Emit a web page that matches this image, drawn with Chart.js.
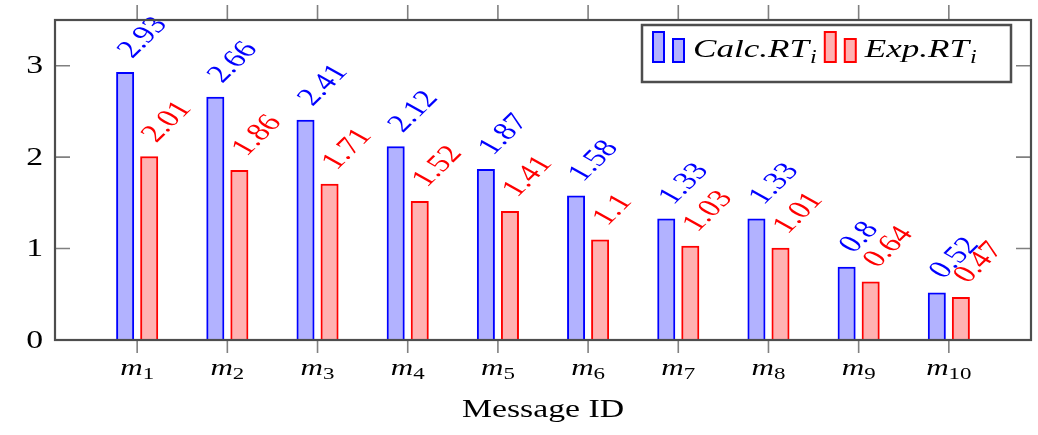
<!DOCTYPE html>
<html>
<head>
<meta charset="utf-8">
<script src="https://cdn.jsdelivr.net/npm/chart.js@4.4.1/dist/chart.umd.min.js"></script>
<style>
  body { margin: 0; background: #fff; }
  #wrap { width: 1038px; height: 435px; }
</style>
</head>
<body>
<div id="wrap"><canvas id="chart" width="1038" height="435"></canvas></div>
<script>
// --- Data ---
const messageIds = ['1', '2', '3', '4', '5', '6', '7', '8', '9', '10'];
const calcRT = [2.93, 2.66, 2.41, 2.12, 1.87, 1.58, 1.33, 1.33, 0.8, 0.52];
const expRT = [2.01, 1.86, 1.71, 1.52, 1.41, 1.1, 1.03, 1.01, 0.64, 0.47];
const seriesNames = ['Calc.RT', 'Exp.RT'];
const seriesSub = 'i';
const yTicks = [0, 1, 2, 3];
const xTitle = 'Message ID';

// --- Style ---
const FONT = "'Liberation Serif', serif";
const S = 1.35; // the picture is stretched sideways
const BLUE = '#0000ff', BLUE_FILL = 'rgba(0,0,255,0.3)';
const RED = '#ff0000', RED_FILL = 'rgba(255,0,0,0.3)';
const FRAME = '#4d4d4d', TICK = '#808080';

function wideText(ctx, text, x, y, font, align) {
  ctx.save();
  ctx.font = font;
  const w = ctx.measureText(text).width * S;
  const x0 = align === 'right' ? x - w : (align === 'center' ? x - w / 2 : x);
  ctx.translate(x0, y);
  ctx.scale(S, 1);
  ctx.textAlign = 'left';
  ctx.fillText(text, 0, 0);
  ctx.restore();
  return w;
}

function textWidth(ctx, text, font) {
  ctx.save(); ctx.font = font;
  const w = ctx.measureText(text).width * S;
  ctx.restore();
  return w;
}

const valueLabels = {
  id: 'valueLabels',
  afterDatasetsDraw(chart) {
    const ctx = chart.ctx;
    chart.data.datasets.forEach((ds, di) => {
      const meta = chart.getDatasetMeta(di);
      meta.data.forEach((bar, i) => {
        ctx.save();
        ctx.translate(bar.x, bar.y - 17);
        ctx.scale(S, 1);
        ctx.rotate(-52.5 * Math.PI / 180);
        ctx.font = '25px ' + FONT;
        ctx.fillStyle = ds.borderColor;
        ctx.textAlign = 'left';
        ctx.textBaseline = 'middle';
        ctx.fillText(String(ds.data[i].y), 0, 0);
        ctx.restore();
      });
    });
  }
};

const frameAndText = {
  id: 'frameAndText',
  afterDraw(chart) {
    const ctx = chart.ctx;
    const { left, right, top, bottom } = chart.chartArea;
    const xs = chart.scales.x, ys = chart.scales.y;

    // ticks
    ctx.save();
    ctx.strokeStyle = TICK;
    ctx.lineWidth = 1.6;
    ctx.beginPath();
    yTicks.forEach(v => {
      const y = ys.getPixelForValue(v);
      ctx.moveTo(left, y); ctx.lineTo(left + 15, y);
      ctx.moveTo(right, y); ctx.lineTo(right - 15, y);
    });
    messageIds.forEach((_, i) => {
      const x = xs.getPixelForValue(i);
      ctx.moveTo(x, bottom); ctx.lineTo(x, bottom + 13);
      ctx.moveTo(x, top); ctx.lineTo(x, top - 15);
    });
    ctx.stroke();

    // frame
    ctx.strokeStyle = FRAME;
    ctx.lineWidth = 2.2;
    ctx.strokeRect(left, top, right - left, bottom - top);

    // y tick labels
    ctx.fillStyle = '#000';
    ctx.textBaseline = 'middle';
    yTicks.forEach(v => {
      wideText(ctx, String(v), 43, ys.getPixelForValue(v) + 1, '25px ' + FONT, 'right');
    });

    // x tick labels: italic m with subscript number
    ctx.textBaseline = 'alphabetic';
    const mFont = 'italic 23px ' + FONT, subFont = '17px ' + FONT;
    messageIds.forEach((id, i) => {
      const x = xs.getPixelForValue(i);
      const w = textWidth(ctx, 'm', mFont) + textWidth(ctx, id, subFont);
      const x0 = x - w / 2;
      const mw = wideText(ctx, 'm', x0, bottom + 35, mFont, 'left');
      wideText(ctx, id, x0 + mw, bottom + 39, subFont, 'left');
    });

    // axis title
    wideText(ctx, xTitle, (left + right) / 2, bottom + 77, '25px ' + FONT, 'center');

    // legend
    const bx = right - 389, by = top + 5, bw = 369, bh = 57;
    ctx.fillStyle = '#fff';
    ctx.fillRect(bx, by, bw, bh);
    ctx.strokeStyle = FRAME;
    ctx.lineWidth = 2.5;
    ctx.strokeRect(bx, by, bw, bh);
    let x = bx + 11;
    const iconBottom = by + 37;
    chart.data.datasets.forEach((ds, di) => {
      ctx.fillStyle = ds.backgroundColor;
      ctx.strokeStyle = ds.borderColor;
      ctx.lineWidth = 2;
      ctx.fillRect(x, iconBottom - 30, 11, 30);
      ctx.strokeRect(x, iconBottom - 30, 11, 30);
      ctx.fillRect(x + 20, iconBottom - 23, 11, 23);
      ctx.strokeRect(x + 20, iconBottom - 23, 11, 23);
      ctx.fillStyle = '#000';
      let tx = x + 40;
      tx += wideText(ctx, seriesNames[di], tx, by + 32, 'italic 26px ' + FONT, 'left');
      tx += wideText(ctx, seriesSub, tx + 1, by + 38, 'italic 18px ' + FONT, 'left');
      x = tx + 9;
    });
    ctx.restore();
  }
};

const toPoints = arr => arr.map((v, i) => ({ x: i, y: v }));

new Chart(document.getElementById('chart'), {
  type: 'bar',
  data: {
    datasets: [
      { label: seriesNames[0], data: toPoints(calcRT), backgroundColor: BLUE_FILL, borderColor: BLUE, borderWidth: 2 },
      { label: seriesNames[1], data: toPoints(expRT), backgroundColor: RED_FILL, borderColor: RED, borderWidth: 2 }
    ]
  },
  options: {
    responsive: false,
    animation: false,
    layout: { padding: { left: 55, top: 20, right: 7, bottom: 95 } },
    categoryPercentage: 0.5333,
    barPercentage: 0.75,
    plugins: { legend: { display: false }, tooltip: { enabled: false } },
    scales: {
      x: {
        type: 'linear', display: false, offset: false, min: -0.911, max: 9.911,
        afterBuildTicks: s => { s.ticks = messageIds.map((_, i) => ({ value: i })); }
      },
      y: { display: false, min: 0, max: 3.5 }
    }
  },
  plugins: [valueLabels, frameAndText]
});
</script>
</body>
</html>
